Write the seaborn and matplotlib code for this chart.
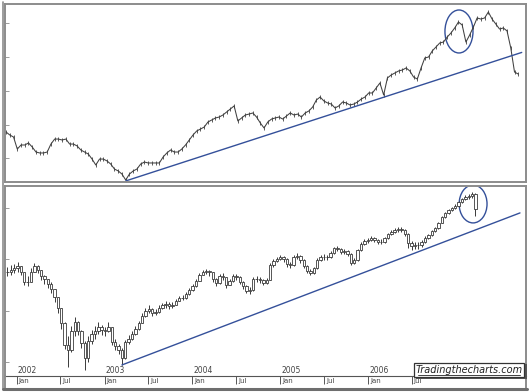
import pandas as pd
import seaborn as sns
import matplotlib.pyplot as plt
import matplotlib.dates as mdates
from matplotlib.patches import Ellipse
from matplotlib.lines import Line2D

sns.set_style('white')

# top panel: daily index sampled every 14 days
top_start = '2001-12-28'
top_values = [11950, 11730, 11580, 10690, 10990, 10990, 11140, 10840, 10470, 10400,
              10400, 10470, 11060, 11430, 11430, 11360, 11430, 11060, 11060, 10920,
              10620, 10470, 10320, 9950, 9510, 9950, 9950, 9810, 9580, 9210,
              9070, 8840, 8400, 8840, 9070, 9210, 9580, 9730, 9660, 9660,
              9660, 9660, 10100, 10400, 10620, 10470, 10470, 10690, 10990, 11360,
              11730, 12030, 12170, 12320, 12690, 12840, 12990, 13060, 13210, 13430,
              13650, 13880, 12770, 12990, 13210, 13280, 13360, 13060, 12620, 12250,
              12690, 12910, 12990, 13060, 12910, 13140, 13360, 13210, 13280, 13060,
              13360, 13510, 13800, 14320, 14540, 14250, 14100, 14020, 13730, 13880,
              14170, 14100, 13950, 14020, 14170, 14390, 14540, 14840, 14840, 15210,
              15580, 14690, 15950, 16170, 16320, 16470, 16540, 16690, 16470, 16020,
              15870, 16690, 17430, 17500, 17950, 18240, 18540, 18610, 18980, 19280,
              19650, 20090, 19870, 18610, 19130, 19720, 20390, 20310, 20390, 20830,
              20310, 19940, 19570, 19650, 19430, 18170, 16390, 16240]
top_trend_dates = ['2003-03-21', '2007-04-12']
top_trend_values = [8330, 17840]

# bottom panel: bars every two weeks
bar_start = '2001-11-23'
bar_close = [1151, 1158, 1166, 1174, 1151, 1112, 1112, 1151, 1174, 1158,
             1135, 1123, 1104, 1084, 1053, 1010, 952, 866, 846, 921,
             956, 921, 874, 815, 882, 909, 921, 936, 924, 921,
             936, 878, 862, 846, 815, 878, 889, 909, 928, 952,
             979, 999, 1006, 991, 995, 1010, 1022, 1026, 1018, 1022,
             1038, 1049, 1049, 1065, 1080, 1096, 1116, 1139, 1151, 1155,
             1151, 1123, 1108, 1135, 1131, 1100, 1116, 1135, 1131, 1112,
             1096, 1077, 1080, 1123, 1123, 1119, 1108, 1119, 1178, 1194,
             1201, 1209, 1201, 1182, 1178, 1209, 1213, 1197, 1174, 1155,
             1147, 1166, 1197, 1209, 1209, 1209, 1225, 1244, 1240, 1229,
             1233, 1221, 1186, 1197, 1236, 1260, 1272, 1275, 1283, 1275,
             1268, 1268, 1283, 1299, 1307, 1314, 1318, 1314, 1299, 1264,
             1252, 1256, 1256, 1268, 1283, 1295, 1311, 1322, 1342, 1365,
             1381, 1392, 1400, 1408, 1424, 1435, 1443, 1447, 1455, 1396]
bar_high = [1170, 1176, 1183, 1190, 1175, 1140, 1135, 1165, 1186, 1178,
            1160, 1140, 1125, 1110, 1085, 1055, 1010, 955, 900, 940,
            975, 960, 925, 880, 900, 925, 940, 955, 945, 935,
            955, 935, 890, 870, 855, 885, 905, 920, 940, 960,
            990, 1010, 1020, 1012, 1008, 1020, 1030, 1038, 1032, 1035,
            1046, 1058, 1062, 1072, 1088, 1104, 1122, 1146, 1160, 1163,
            1160, 1152, 1128, 1142, 1145, 1132, 1124, 1142, 1142, 1134,
            1115, 1100, 1092, 1130, 1136, 1130, 1124, 1128, 1185, 1200,
            1210, 1218, 1214, 1204, 1190, 1215, 1224, 1216, 1200, 1178,
            1162, 1172, 1204, 1216, 1220, 1218, 1232, 1250, 1252, 1244,
            1240, 1236, 1224, 1206, 1242, 1266, 1280, 1284, 1290, 1288,
            1280, 1278, 1288, 1304, 1314, 1322, 1326, 1325, 1318, 1302,
            1270, 1268, 1266, 1275, 1290, 1300, 1316, 1328, 1346, 1370,
            1386, 1398, 1406, 1414, 1428, 1440, 1450, 1455, 1462, 1460]
bar_low = [1135, 1140, 1148, 1152, 1140, 1100, 1095, 1110, 1150, 1145,
           1120, 1105, 1090, 1070, 1035, 990, 930, 850, 780, 840,
           900, 905, 855, 768, 800, 870, 890, 910, 905, 900,
           915, 865, 845, 830, 788, 810, 870, 885, 905, 925,
           950, 975, 990, 980, 982, 990, 1005, 1012, 1005, 1010,
           1020, 1036, 1040, 1046, 1062, 1078, 1094, 1115, 1138, 1142,
           1136, 1112, 1095, 1104, 1120, 1090, 1098, 1112, 1120, 1102,
           1085, 1068, 1065, 1078, 1112, 1108, 1098, 1105, 1118, 1172,
           1188, 1196, 1190, 1172, 1166, 1175, 1202, 1186, 1165, 1145,
           1137, 1142, 1162, 1195, 1198, 1198, 1205, 1222, 1232, 1220,
           1222, 1212, 1176, 1182, 1195, 1234, 1256, 1265, 1270, 1266,
           1258, 1258, 1264, 1280, 1296, 1302, 1308, 1305, 1290, 1245,
           1235, 1240, 1242, 1250, 1265, 1280, 1292, 1308, 1320, 1340,
           1362, 1378, 1388, 1396, 1405, 1420, 1430, 1436, 1440, 1370]
bottom_trend_dates = ['2003-03-14', '2007-09-24']
bottom_trend_values = [788, 1381]
years = [2002, 2003, 2004, 2005, 2006]

top = pd.DataFrame({'date': pd.date_range(top_start, periods=len(top_values), freq='14D'),
                    'value': top_values})
bars = pd.DataFrame({'date': pd.date_range(bar_start, periods=len(bar_close), freq='14D'),
                     'close': bar_close, 'high': bar_high, 'low': bar_low})
bars['open'] = bars['close'].shift(1).fillna(bars['close'])

W, H = 529, 392
fig = plt.figure(figsize=(W / 100, H / 100), dpi=100)
ax1 = fig.add_axes([5 / W, 1 - 182 / H, 521 / W, 178.5 / H])
ax2 = fig.add_axes([5 / W, 1 - 376 / H, 521 / W, 190 / H])

blue = '#34509a'
gray = '#8c8c8c'
ink = '#3a3a3a'

# top panel
ax1.plot(top['date'], top['value'], color='#404040', lw=0.75, marker='|', ms=2.5, mew=0.6)
sns.lineplot(x=pd.to_datetime(top_trend_dates), y=top_trend_values, ax=ax1, color=blue, lw=1.0)
ax1.add_patch(Ellipse((mdates.date2num(pd.Timestamp('2006-08-20')), 19390), 105, 3180,
                      fill=False, ec=blue, lw=1.0))
ax1.set_xlim(pd.Timestamp('2001-12-24'), pd.Timestamp('2007-04-28'))
ax1.set_ylim(8252, 21461)

# bottom panel: hollow candles
ax2.vlines(bars['date'], bars['low'], bars['high'], color=ink, lw=0.7, zorder=2)
body_lo = bars[['open', 'close']].min(axis=1)
body_hi = bars[['open', 'close']].max(axis=1)
ax2.bar(bars['date'], body_hi - body_lo, bottom=body_lo, width=10,
        color='white', edgecolor=ink, linewidth=0.6, zorder=3)
sns.lineplot(x=pd.to_datetime(bottom_trend_dates), y=bottom_trend_values, ax=ax2, color=blue, lw=1.0)
ax2.add_patch(Ellipse((mdates.date2num(pd.Timestamp('2007-03-13')), 1416), 116, 148,
                      fill=False, ec=blue, lw=1.0))
ax2.set_xlim(pd.Timestamp('2001-11-13'), pd.Timestamp('2007-10-19'))
ax2.set_ylim(745, 1486)

for ax in (ax1, ax2):
    ax.set_xlabel('')
    ax.set_ylabel('')
    ax.set_yticklabels([])
    ax.tick_params(axis='y', left=True, direction='in', length=3, width=0.6, color=gray)
    for s in ax.spines.values():
        s.set_color(gray)
        s.set_linewidth(1.4)

ax1.set_xticks([])
ax2.spines['bottom'].set_color('#555555')
ax2.spines['bottom'].set_linewidth(0.8)

month_ticks = []
for y in years:
    month_ticks += [pd.Timestamp(f'{y}-01-01'), pd.Timestamp(f'{y}-07-01')]
ax2.set_xticks(month_ticks)
ax2.set_xticklabels([])
ax2.tick_params(axis='x', bottom=True, direction='out', length=5.5, width=0.7, color='#555555')
for d in month_ticks:
    ax2.annotate(d.strftime('%b'), xy=(d, 0), xycoords=('data', 'axes fraction'),
                 xytext=(1.5, -1.5), textcoords='offset points', ha='left', va='top',
                 fontsize=5, color='#444444')
for y in years:
    ax2.annotate(str(y), xy=(pd.Timestamp(f'{y}-01-01'), 0), xycoords=('data', 'axes fraction'),
                 xytext=(0.8, 0.8), textcoords='offset points', ha='left', va='bottom',
                 fontsize=5.5, color='#444444')

# outer frame
fig.add_artist(Line2D([2.5 / W, 2.5 / W], [1 - 389 / H, 1 - 2 / H], color=gray, lw=1.2))
fig.add_artist(Line2D([5 / W, 5 / W], [1 - 389 / H, 1 - 376 / H], color=gray, lw=1.4))
fig.add_artist(Line2D([526 / W, 526 / W], [1 - 389 / H, 1 - 376 / H], color=gray, lw=1.4))
fig.add_artist(Line2D([2.5 / W, 527 / W], [1 - 388.5 / H, 1 - 388.5 / H], color='#6e6e6e', lw=2.2))

# watermark box
fig.add_artist(plt.Rectangle((416 / W, 1 - 379 / H), 111 / W, 15 / H, fc='#555555', ec='none', zorder=5))
fig.add_artist(plt.Rectangle((414 / W, 1 - 377 / H), 110 / W, 14.5 / H, fc='white', ec='#333333', lw=0.9, zorder=6))
fig.text(469 / W, 1 - 370 / H, 'Tradingthecharts.com', ha='center', va='center',
         fontsize=7, style='italic', color='#222222', zorder=7)
fig.add_artist(Line2D([418 / W, 520 / W], [1 - 375 / H, 1 - 375 / H], color='#222222', lw=0.6, zorder=7))

fig.savefig('out.png', dpi=100)
